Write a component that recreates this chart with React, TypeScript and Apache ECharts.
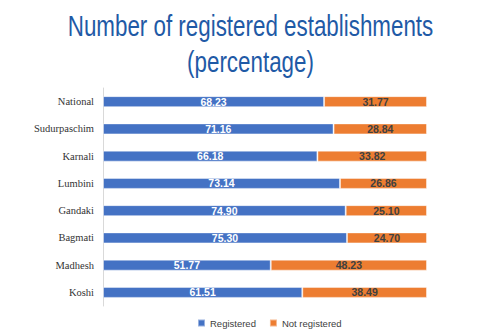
import React, { useEffect, useRef } from "react";
import * as echarts from "echarts";

const titleLines = ["Number of registered establishments", "(percentage)"];
const categories = ["National", "Sudurpaschim", "Karnali", "Lumbini", "Gandaki", "Bagmati", "Madhesh", "Koshi"];
const registered = [68.23, 71.16, 66.18, 73.14, 74.9, 75.3, 51.77, 61.51];
const notRegistered = [31.77, 28.84, 33.82, 26.86, 25.1, 24.7, 48.23, 38.49];

export default function App() {
  const ref = useRef<HTMLDivElement>(null);
  useEffect(() => {
    if (!ref.current) return;
    const chart = echarts.init(ref.current, undefined, { renderer: "svg" });
    const titleStyle = {
      fontFamily: "Liberation Sans",
      fontSize: 30,
      fill: "#1f5aa6",
      align: "center",
      verticalAlign: "top",
    };
    chart.setOption({
      animation: false,
      backgroundColor: "#ffffff",
      graphic: [
        {
          type: "text",
          x: 250.5,
          y: 11,
          scaleX: 0.746,
          style: { ...titleStyle, text: titleLines[0] },
        },
        {
          type: "text",
          x: 250.5,
          y: 47,
          scaleX: 0.746,
          style: { ...titleStyle, text: titleLines[1] },
        },
      ],
      legend: {
        top: 313,
        left: 192,
        icon: "rect",
        itemWidth: 7,
        itemHeight: 7,
        itemGap: 13,
        textStyle: { fontFamily: "Liberation Sans", fontSize: 9.5, color: "#404040" },
        data: ["Registered", "Not registered"],
      },
      grid: { left: 103, right: 64, top: 88, bottom: 23, containLabel: false },
      xAxis: { type: "value", min: 0, max: 100, show: false },
      yAxis: {
        type: "category",
        inverse: true,
        data: categories,
        axisLine: { show: true, lineStyle: { color: "#d9d9d9" } },
        axisTick: { show: false },
        axisLabel: { fontFamily: "Liberation Serif", fontSize: 10.5, color: "#333333", margin: 9 },
      },
      series: [
        {
          name: "Registered",
          type: "bar",
          stack: "total",
          data: registered,
          barWidth: 11,
          itemStyle: { color: "#4472c4", borderColor: "rgba(255,255,255,0.45)", borderWidth: 1 },
          label: {
            show: true,
            position: "inside",
            formatter: (p: any) => p.value.toFixed(2),
            color: "#ffffff",
            fontFamily: "Liberation Sans",
            fontWeight: "bold",
            fontSize: 10.5,
          },
        },
        {
          name: "Not registered",
          type: "bar",
          stack: "total",
          data: notRegistered,
          barWidth: 11,
          itemStyle: { color: "#ed7d31", borderColor: "rgba(255,255,255,0.45)", borderWidth: 1 },
          label: {
            show: true,
            position: "inside",
            formatter: (p: any) => p.value.toFixed(2),
            color: "#404040",
            fontFamily: "Liberation Sans",
            fontWeight: "bold",
            fontSize: 10.5,
          },
        },
      ],
    });
    return () => chart.dispose();
  }, []);
  return <div ref={ref} style={{ width: 491, height: 329, position: "absolute", left: 0, top: 0 }} />;
}
